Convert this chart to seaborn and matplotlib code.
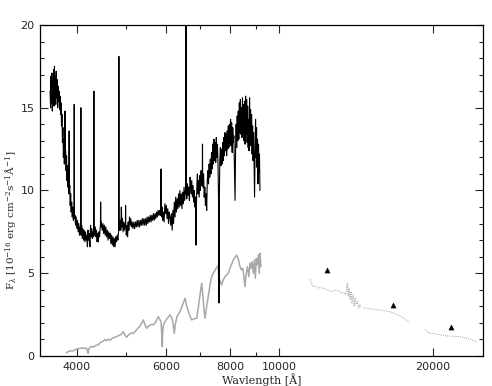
import numpy as np
import pandas as pd
import seaborn as sns
import matplotlib
matplotlib.use('Agg')
import matplotlib.pyplot as plt
from matplotlib.ticker import FixedLocator, FixedFormatter, NullFormatter, MultipleLocator

sns.set_style('ticks')
plt.rcParams['font.family'] = ['DejaVu Sans']
plt.rcParams['mathtext.fontset'] = 'dejavuserif'

# optical spectrum of the object (black), wavelength [A], flux
black_spec = [
    (3548, 16.0), (3556, 15.0), (3562, 16.9), (3570, 15.3), (3577, 17.1), (3584, 14.8),
    (3591, 16.6), (3598, 15.6), (3605, 17.3), (3612, 15.1), (3619, 17.5), (3626, 15.8),
    (3633, 16.9), (3640, 15.2), (3648, 17.2), (3656, 15.6), (3664, 16.7), (3672, 15.0),
    (3680, 16.3), (3688, 15.4), (3696, 16.0), (3704, 14.9), (3712, 15.7), (3720, 14.6),
    (3728, 15.3), (3736, 13.9), (3744, 14.6), (3752, 12.9), (3760, 13.8), (3768, 12.0),
    (3776, 13.1), (3784, 11.6), (3790, 12.6), (3793, 12.2), (3796, 14.8), (3799, 11.8),
    (3806, 12.4), (3814, 11.2), (3822, 12.1), (3830, 10.6), (3838, 11.5), (3846, 10.2),
    (3854, 11.0), (3861, 9.8), (3864, 10.4), (3867, 13.6), (3870, 9.9), (3878, 10.3),
    (3886, 9.1), (3894, 9.8), (3902, 8.7), (3912, 9.3), (3922, 8.4), (3932, 9.0),
    (3942, 8.2), (3950, 8.8), (3954, 8.6), (3957, 15.2), (3960, 8.3), (3970, 8.5),
    (3980, 7.9), (3992, 8.4), (4004, 7.7), (4016, 8.2), (4028, 7.5), (4040, 8.0),
    (4052, 7.3), (4064, 7.8), (4075, 7.4), (4078, 15.0), (4081, 7.3), (4092, 7.9),
    (4104, 7.1), (4116, 7.7), (4128, 7.0), (4140, 7.6), (4152, 6.9), (4164, 7.5),
    (4176, 7.0), (4188, 7.3), (4200, 6.6), (4212, 7.6), (4224, 7.0), (4236, 7.4),
    (4248, 6.6), (4260, 7.9), (4272, 7.2), (4284, 7.7), (4296, 7.1), (4308, 7.5),
    (4318, 7.2), (4322, 7.4), (4325, 16.0), (4328, 7.5), (4340, 7.3), (4352, 7.8),
    (4364, 7.2), (4376, 7.6), (4388, 6.9), (4400, 7.4), (4412, 6.9), (4424, 7.5),
    (4436, 7.2), (4448, 7.7), (4455, 7.9), (4459, 9.3), (4463, 7.8), (4475, 8.1),
    (4490, 7.6), (4505, 8.0), (4520, 7.4), (4535, 7.9), (4550, 7.3), (4565, 7.8),
    (4580, 7.2), (4595, 7.6), (4610, 7.0), (4625, 7.5), (4640, 7.1), (4655, 7.4),
    (4670, 6.8), (4685, 7.3), (4700, 6.7), (4715, 7.2), (4730, 6.6), (4745, 7.1),
    (4760, 6.6), (4775, 7.2), (4790, 6.9), (4805, 7.3), (4820, 7.0), (4832, 7.4),
    (4837, 7.6), (4842, 18.1), (4847, 7.8), (4860, 7.6), (4872, 8.2), (4884, 7.6),
    (4896, 9.0), (4908, 7.8), (4920, 8.3), (4935, 7.5), (4950, 8.1), (4965, 7.6),
    (4980, 8.0), (4987, 8.0), (4991, 9.1), (4995, 7.8), (5008, 7.3), (5022, 7.9),
    (5036, 7.2), (5050, 8.1), (5065, 7.6), (5080, 8.4), (5095, 7.9), (5110, 8.3),
    (5125, 7.8), (5140, 8.1), (5160, 7.7), (5180, 8.1), (5200, 7.7), (5220, 8.1),
    (5240, 7.8), (5260, 8.2), (5280, 7.8), (5300, 8.2), (5320, 7.8), (5340, 8.2),
    (5360, 7.9), (5380, 8.3), (5400, 7.9), (5420, 8.3), (5440, 7.9), (5460, 8.3),
    (5480, 7.9), (5500, 8.4), (5520, 8.0), (5540, 8.4), (5560, 8.1), (5580, 8.5),
    (5600, 8.1), (5620, 8.5), (5640, 8.2), (5660, 8.6), (5680, 8.2), (5700, 8.6),
    (5720, 8.3), (5740, 8.7), (5760, 8.4), (5780, 8.8), (5800, 8.5), (5820, 8.8),
    (5840, 8.5), (5850, 8.6), (5856, 11.3), (5862, 8.7), (5875, 8.4), (5890, 9.0),
    (5905, 8.2), (5920, 8.7), (5940, 8.1), (5960, 9.2), (5980, 8.6), (6000, 9.1),
    (6020, 8.3), (6040, 8.9), (6060, 8.0), (6080, 8.7), (6100, 8.4), (6120, 7.9),
    (6140, 8.6), (6160, 7.6), (6180, 8.8), (6200, 8.0), (6220, 9.3), (6240, 8.4),
    (6260, 9.6), (6280, 8.7), (6300, 9.5), (6320, 8.9), (6340, 9.8), (6360, 9.0),
    (6380, 10.0), (6400, 9.1), (6420, 9.8), (6440, 8.9), (6460, 9.9), (6480, 9.2),
    (6500, 10.2), (6520, 9.4), (6540, 10.0), (6550, 9.8), (6558, 24.0), (6566, 10.1),
    (6580, 9.5), (6600, 10.4), (6620, 9.7), (6640, 10.2), (6660, 9.4), (6678, 10.8),
    (6690, 10.6), (6710, 9.8), (6730, 10.6), (6750, 9.6), (6770, 10.3), (6790, 9.3),
    (6810, 10.0), (6830, 9.0), (6845, 9.6), (6860, 6.7), (6875, 9.2), (6890, 10.4),
    (6905, 11.0), (6920, 9.8), (6940, 10.6), (6960, 9.6), (6980, 10.9), (7000, 10.0),
    (7020, 11.2), (7040, 10.3), (7060, 11.0), (7065, 12.8), (7070, 10.8), (7085, 10.2),
    (7100, 11.0), (7120, 9.6), (7140, 10.2), (7160, 9.1), (7180, 9.8), (7200, 8.8),
    (7220, 10.6), (7240, 11.2), (7260, 10.4), (7280, 11.6), (7300, 10.8), (7320, 11.9),
    (7340, 11.0), (7360, 12.3), (7380, 11.3), (7400, 12.8), (7420, 11.6), (7440, 13.1),
    (7460, 11.8), (7480, 12.9), (7500, 11.7), (7520, 13.2), (7540, 12.0), (7560, 12.8),
    (7580, 11.5), (7600, 9.0), (7612, 3.2), (7624, 9.5), (7640, 11.8), (7660, 12.6),
    (7680, 11.5), (7700, 12.5), (7720, 11.6), (7740, 12.9), (7760, 11.8), (7780, 13.2),
    (7800, 12.1), (7820, 13.5), (7840, 12.4), (7860, 13.4), (7880, 12.1), (7900, 13.6),
    (7920, 12.5), (7940, 13.9), (7960, 12.6), (7980, 14.0), (8000, 12.8), (8020, 14.3),
    (8040, 12.7), (8060, 14.1), (8080, 12.3), (8100, 13.8), (8120, 12.9), (8140, 13.3),
    (8160, 11.6), (8185, 9.4), (8205, 12.5), (8225, 14.0), (8245, 12.6), (8265, 14.5),
    (8285, 13.0), (8305, 14.8), (8325, 13.1), (8345, 15.3), (8365, 13.5), (8385, 15.5),
    (8405, 13.4), (8425, 15.0), (8445, 13.2), (8465, 15.6), (8485, 13.6), (8505, 15.2),
    (8525, 13.0), (8545, 15.4), (8565, 12.8), (8585, 15.7), (8605, 13.4), (8625, 15.5),
    (8645, 12.9), (8665, 15.1), (8685, 12.6), (8700, 14.3), (8720, 12.4), (8740, 15.6),
    (8760, 13.0), (8780, 14.9), (8800, 12.7), (8820, 14.6), (8840, 12.2), (8860, 13.9),
    (8880, 11.8), (8900, 13.5), (8920, 11.6), (8940, 9.6), (8960, 12.4), (8980, 14.3),
    (9000, 12.0), (9020, 13.8), (9040, 11.4), (9060, 13.1), (9080, 10.4), (9100, 12.8),
    (9120, 11.1), (9140, 12.2), (9160, 10.0),
]

# comparison spectrum (grey)
grey_spec = [
    (3820, 0.20), (3860, 0.28), (3900, 0.32), (3940, 0.30), (3970, 0.38), (4010, 0.42),
    (4060, 0.46), (4100, 0.50), (4140, 0.45), (4183, 0.48), (4200, 0.30), (4213, 0.16),
    (4226, 0.40), (4248, 0.52), (4280, 0.58), (4320, 0.55), (4360, 0.64), (4410, 0.68),
    (4450, 0.80), (4500, 0.88), (4546, 1.00), (4580, 0.92), (4620, 1.02), (4650, 0.95),
    (4700, 1.08), (4757, 1.13), (4800, 1.18), (4850, 1.25), (4890, 1.30), (4937, 1.47),
    (4970, 1.30), (5014, 1.13), (5050, 1.25), (5089, 1.32), (5130, 1.40), (5170, 1.36),
    (5206, 1.47), (5250, 1.60), (5290, 1.72), (5325, 1.80), (5360, 1.95), (5406, 2.18),
    (5440, 1.95), (5470, 1.75), (5490, 1.67), (5530, 1.80), (5571, 1.85), (5610, 1.92),
    (5650, 1.88), (5699, 1.98), (5740, 2.15), (5785, 2.37), (5830, 2.20), (5860, 2.05),
    (5880, 1.20), (5891, 0.56), (5902, 1.40), (5920, 1.85), (5963, 2.07), (6000, 2.20),
    (6040, 2.32), (6100, 2.48), (6150, 2.30), (6190, 1.90), (6220, 1.37), (6250, 1.95),
    (6300, 2.40), (6383, 2.68), (6450, 3.05), (6529, 3.49), (6570, 3.10), (6620, 2.75),
    (6680, 2.40), (6730, 2.18), (6800, 2.25), (6884, 2.28), (6930, 2.90), (6980, 3.60),
    (7040, 4.39), (7080, 3.60), (7110, 2.90), (7145, 2.28), (7200, 3.00), (7260, 3.70),
    (7310, 4.30), (7364, 4.79), (7420, 5.00), (7480, 5.20), (7540, 5.35), (7588, 5.50),
    (7610, 4.30), (7640, 4.60), (7705, 4.29), (7760, 4.60), (7820, 4.80), (7880, 4.90),
    (7940, 5.00), (8000, 5.30), (8060, 5.55), (8120, 5.80), (8180, 5.95), (8245, 6.10),
    (8300, 5.90), (8340, 5.60), (8372, 5.40), (8420, 5.20), (8480, 5.30), (8520, 4.70),
    (8563, 4.19), (8600, 4.90), (8660, 5.40), (8710, 4.80), (8760, 5.60), (8800, 5.30),
    (8840, 5.70), (8890, 5.00), (8930, 5.80), (8970, 4.70), (9010, 5.90), (9050, 5.50),
    (9094, 6.10), (9130, 5.00), (9160, 6.20), (9200, 5.40),
]

# near-IR spectra, J / H / K
ir_j = [(11490, 4.63), (11560, 4.40), (11660, 4.19), (11800, 4.22), (11900, 4.10),
        (12020, 4.15), (12200, 4.08), (12390, 4.03), (12520, 3.95), (12670, 3.89),
        (12820, 3.97), (12970, 3.99), (13100, 3.90), (13200, 3.80), (13360, 3.83),
        (13500, 3.70), (13590, 4.40), (13650, 3.60), (13700, 4.10), (13770, 3.40),
        (13820, 3.90), (13880, 3.20), (13960, 3.70), (14020, 3.00), (14080, 3.50),
        (14150, 3.10), (14220, 3.30), (14300, 2.90), (14380, 3.10), (14450, 2.95)]
ir_h = [(14620, 2.88), (14800, 2.90), (15080, 2.85), (15400, 2.80), (15770, 2.78),
        (16100, 2.72), (16500, 2.68), (16900, 2.55), (17260, 2.42), (17600, 2.25),
        (17920, 2.07)]
ir_k = [(19330, 1.61), (19550, 1.45), (19780, 1.37), (20300, 1.33), (20800, 1.27),
        (21330, 1.21), (22000, 1.19), (22650, 1.17), (23200, 1.08), (23700, 1.01),
        (24100, 0.93), (24430, 0.86)]

# photometric points (triangles)
phot_wave = [12390, 16700, 21700]
phot_flux = [5.20, 3.06, 1.73]

xticks_major = [4000, 6000, 8000, 10000, 20000]
xticks_minor = [5000, 7000, 9000]

black = pd.DataFrame(black_spec, columns=['wave', 'flux'])
grey = pd.DataFrame(grey_spec, columns=['wave', 'flux'])
ir = pd.concat([pd.DataFrame(b, columns=['wave', 'flux']).assign(band=n)
                for n, b in zip(['J', 'H', 'K'], [ir_j, ir_h, ir_k])])
phot = pd.DataFrame({'wave': phot_wave, 'flux': phot_flux})

fig = plt.figure(figsize=(4.92, 3.86), dpi=100)
ax = fig.add_axes([40/492, 1 - 356/386, 443/492, 331/386])

sns.lineplot(data=grey, x='wave', y='flux', color='#a8a8a8', lw=1.1,
             estimator=None, sort=False, ax=ax)
sns.lineplot(data=black, x='wave', y='flux', color='black', lw=0.8,
             estimator=None, sort=False, ax=ax)
sns.lineplot(data=ir, x='wave', y='flux', units='band', color='#a0a0a0', lw=0.7,
             linestyle=(0, (1, 1.2)), estimator=None, sort=False, ax=ax)
sns.scatterplot(data=phot, x='wave', y='flux', marker='^', color='black',
                s=14, edgecolor='black', linewidth=0.3, ax=ax)

ax.set_xscale('log')
ax.set_xlim(3390, 25100)
ax.set_ylim(0, 20)
ax.xaxis.set_major_locator(FixedLocator(xticks_major))
ax.xaxis.set_major_formatter(FixedFormatter([str(t) for t in xticks_major]))
ax.xaxis.set_minor_locator(FixedLocator(xticks_minor))
ax.xaxis.set_minor_formatter(NullFormatter())
ax.yaxis.set_major_locator(MultipleLocator(5))
ax.yaxis.set_minor_locator(MultipleLocator(1))

ax.tick_params(which='both', direction='in', top=True, right=True,
               width=0.8, labelsize=8, pad=4)
ax.tick_params(which='major', length=6)
ax.tick_params(which='minor', length=3)
for s in ax.spines.values():
    s.set_linewidth(0.9)
    s.set_color('black')

ax.set_xlabel('Wavlength [Å]', family='DejaVu Serif', fontsize=8, labelpad=1)
ax.set_ylabel(r'F$_\lambda$ [10$^{-16}$ erg cm$^{-2}$s$^{-1}$Å$^{-1}$]',
              family='DejaVu Serif', fontsize=7.5)
ax.yaxis.set_label_coords(-0.048, 0.41)

fig.savefig('out.png', dpi=100)
